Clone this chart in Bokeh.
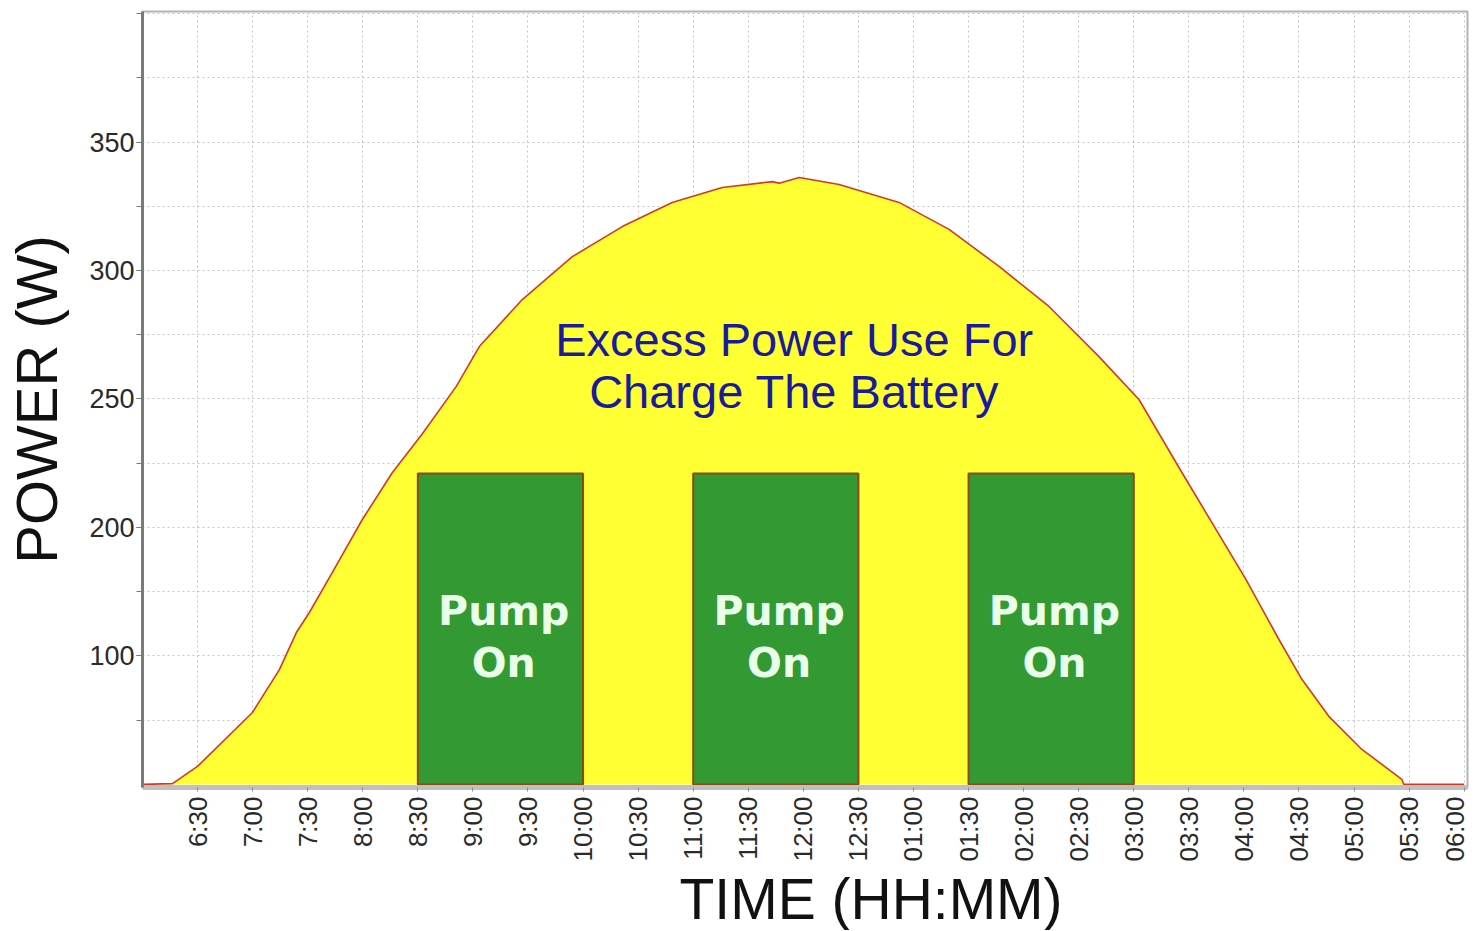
import math
from bokeh.plotting import figure
from bokeh.models import FixedTicker, Title
from bokeh.core.properties import value
from bokeh.embed import file_html
from bokeh.resources import INLINE

# ---- data ----
time_h = [6.0, 6.272, 6.499, 6.998, 7.243, 7.397, 7.515, 7.724, 7.996, 8.269,
          8.541, 8.849, 9.058, 9.448, 9.902, 10.356, 10.809, 11.263, 11.717,
          11.78, 11.962, 12.325, 12.869, 13.323, 13.777, 14.230, 14.684,
          15.047, 15.437, 15.655, 16.018, 16.318, 16.526, 16.771, 17.071,
          17.434, 17.452, 18.0]
power_w = [100, 100.3, 107.0, 128.0, 144.7, 159.1, 166.9, 182.5, 203.1, 221.4,
           236.5, 254.9, 270.4, 288.7, 305.4, 317.1, 326.5, 332.3, 334.6,
           334.0, 336.2, 333.5, 326.5, 316.0, 301.6, 286.0, 266.5,
           249.8, 221.4, 205.8, 179.8, 156.4, 140.9, 126.5, 113.6,
           102.0, 100.0, 100]
baseline_w = 100

pump_start = [8.5, 11.0, 13.5]
pump_end = [10.0, 12.5, 15.0]
pump_power = [221, 221, 221]
pump_text1 = ["Pump", "Pump", "Pump"]
pump_text2 = ["On", "On", "On"]

note_lines = ["Excess Power Use For", "Charge The Battery"]

x_ticks = [6.5 + 0.5 * i for i in range(24)]
x_tick_labels = ["6:30", "7:00", "7:30", "8:00", "8:30", "9:00", "9:30",
                 "10:00", "10:30", "11:00", "11:30", "12:00", "12:30",
                 "01:00", "01:30", "02:00", "02:30", "03:00", "03:30",
                 "04:00", "04:30", "05:00", "05:30", "06:00"]
y_ticks = [150, 200, 250, 300, 350]
y_tick_labels = ["100", "200", "250", "300", "350"]
y_grid = [125 + 25 * i for i in range(12)]

FONT = "Liberation Sans"

p = figure(width=1469, height=920, frame_width=1325, frame_height=776,
           x_range=(6.0, 18.03), y_range=(98.8, 400.8),
           output_backend="svg", toolbar_location=None,
           min_border_left=142, min_border_right=2, min_border_top=11,
           min_border_bottom=10, background_fill_color="white",
           border_fill_color="white")

p.outline_line_color = "#b4b4b4"
p.outline_line_width = 2

# grid
p.xgrid.ticker = FixedTicker(ticks=x_ticks)
p.ygrid.ticker = FixedTicker(ticks=y_grid)
for g in (p.xgrid, p.ygrid):
    g.grid_line_color = "#c4c4c4"
    g.grid_line_dash = "2 3"
    g.grid_line_width = 1

# area + curve
p.varea(x=time_h, y1=baseline_w, y2=power_w, fill_color="#ffff33")
p.line(x=time_h, y=power_w, line_color="#d23a28", line_width=1.6)

# pumps
p.quad(left=pump_start, right=pump_end, bottom=baseline_w, top=pump_power,
       fill_color="#339a33", line_color="#8a4a14", line_width=2)
pump_mid = [(a + b) / 2 + 0.03 for a, b in zip(pump_start, pump_end)]
p.text(x=pump_mid, y=[167.3] * 3, text=pump_text1, text_align="center",
       text_baseline="middle", text_font=value("DejaVu Sans"),
       text_font_style="bold", text_font_size="41px", text_color="#eaffea")
p.text(x=pump_mid, y=[147.1] * 3, text=pump_text2, text_align="center",
       text_baseline="middle", text_font=value("DejaVu Sans"),
       text_font_style="bold", text_font_size="41px", text_color="#eaffea")

p.text(x=[11.917, 11.917], y=[273.1, 252.9], text=note_lines,
       text_align="center", text_baseline="middle", text_font=value(FONT),
       text_font_size="47px", text_color="#1a1a9c")

# axes
xa = p.xaxis[0]
xa.ticker = FixedTicker(ticks=x_ticks)
xa.major_label_overrides = {t: l for t, l in zip(x_ticks, x_tick_labels)}
xa.major_label_orientation = math.pi / 2
xa.major_label_text_font = FONT
xa.major_label_text_font_size = "26px"
xa.major_label_text_color = "#2a2a2a"
xa.major_label_standoff = 5
xa.axis_line_color = "#c0c0c0"
xa.axis_line_width = 5
xa.major_tick_line_color = "#909090"
xa.major_tick_out = 4
xa.major_tick_in = 0
xa.minor_tick_line_color = None

ya = p.yaxis[0]
ya.ticker = FixedTicker(ticks=y_ticks, minor_ticks=y_grid)
ya.major_label_overrides = {t: l for t, l in zip(y_ticks, y_tick_labels)}
ya.major_label_text_font = FONT
ya.major_label_text_font_size = "27px"
ya.major_label_text_color = "#2a2a2a"
ya.major_label_standoff = 2
ya.axis_line_color = "#7a7a7a"
ya.axis_line_width = 3
ya.major_tick_line_color = "#7a7a7a"
ya.major_tick_out = 6
ya.major_tick_in = 0
ya.minor_tick_line_color = "#7a7a7a"
ya.minor_tick_out = 6
ya.minor_tick_in = 0
ya.axis_label = "POWER (W)"
ya.axis_label_text_font = FONT
ya.axis_label_text_font_style = "normal"
ya.axis_label_text_font_size = "58px"
ya.axis_label_text_color = "#111111"
ya.axis_label_standoff = 17

p.add_layout(Title(text="TIME (HH:MM)", align="left", offset=537,
                   standoff=0, text_font=FONT, text_font_style="normal",
                   text_font_size="57px", text_color="#111111"), "below")

open("out.html", "w").write(file_html(p, INLINE))
